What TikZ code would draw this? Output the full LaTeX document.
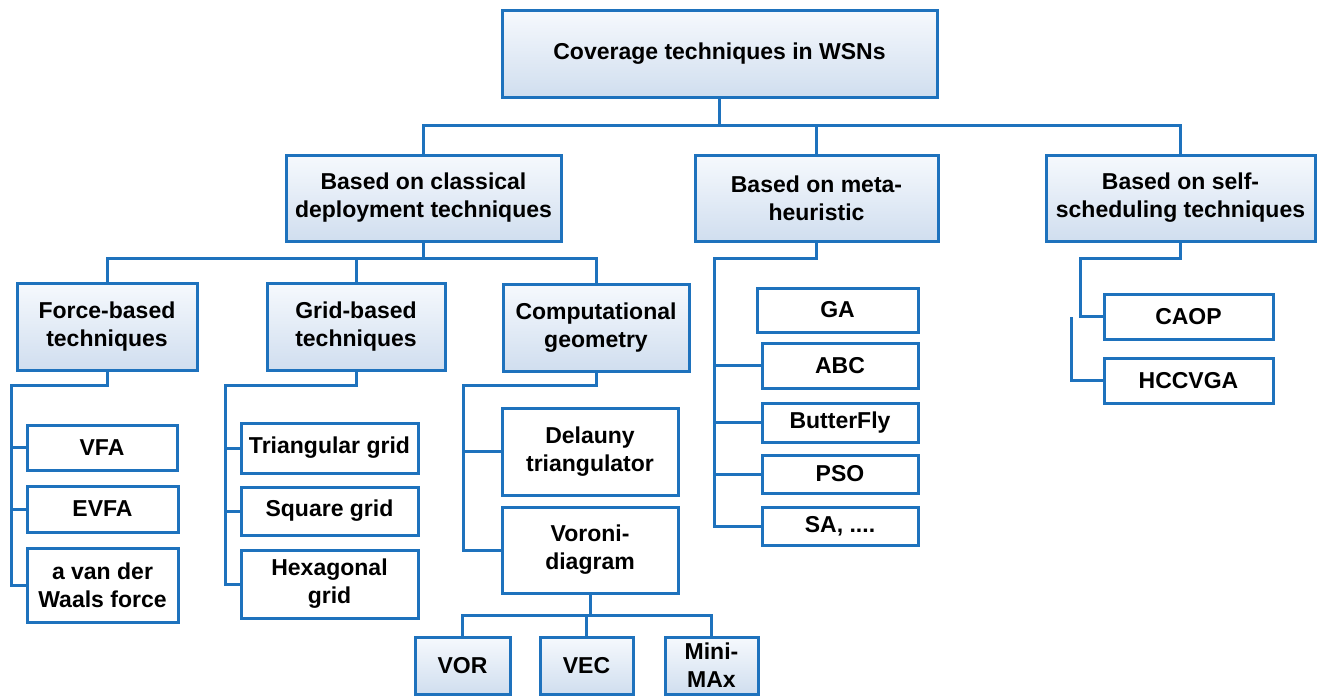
\documentclass[tikz,border=0pt]{standalone}
\usepackage{fontspec}
\setmainfont{Liberation Sans}
\usetikzlibrary{shadows}
\definecolor{edgeblue}{RGB}{30,114,189}
\definecolor{topfill}{RGB}{246,249,253}
\definecolor{botfill}{RGB}{208,222,239}
\tikzset{
  base/.style={draw=edgeblue, line width=3pt, inner sep=0pt, align=center,
    font=\fontsize{23pt}{28pt}\selectfont\bfseries,
    drop shadow={shadow xshift=1.5pt, shadow yshift=-2pt, opacity=0.3, fill=black!60}},
  gbox/.style={base, top color=topfill, bottom color=botfill},
  wbox/.style={base, fill=white},
  conn/.style={draw=edgeblue, line width=3pt}
}
\begin{document}
\begin{tikzpicture}[x=1pt, y=-1pt]
\useasboundingbox (0,0) rectangle (1318,696);
% level 0
\node[gbox, minimum width=435pt, minimum height=87pt] (root) at (719.5,53.5) {Coverage techniques in WSNs};
% level 1
\node[gbox, minimum width=275pt, minimum height=86pt] (classical) at (423.5,198) {Based on classical\\deployment techniques};
\node[gbox, minimum width=243pt, minimum height=86pt] (meta) at (816.5,198) {Based on meta-\\heuristic};
\node[gbox, minimum width=269pt, minimum height=86pt] (self) at (1180.5,198) {Based on self-\\scheduling techniques};
% level 2
\node[gbox, minimum width=180pt, minimum height=87pt] (force) at (107,326.5) {Force-based\\techniques};
\node[gbox, minimum width=178pt, minimum height=87pt] (grid) at (356,326.5) {Grid-based\\techniques};
\node[gbox, minimum width=186pt, minimum height=87pt] (comp) at (596,327.5) {Computational\\geometry};
% force children
\node[wbox, minimum width=150pt, minimum height=45pt] (vfa) at (102,447.5) {VFA};
\node[wbox, minimum width=151pt, minimum height=46pt] (evfa) at (102.5,509) {EVFA};
\node[wbox, minimum width=151pt, minimum height=74pt] (vdw) at (102.5,585) {a van der\\Waals force};
% grid children
\node[wbox, minimum width=177pt, minimum height=50pt] (tri) at (329.5,448) {Triangular grid};
\node[wbox, minimum width=177pt, minimum height=48pt] (sq) at (329.5,511) {Square grid};
\node[wbox, minimum width=177pt, minimum height=68pt] (hex) at (329.5,584) {Hexagonal\\grid};
% comp children
\node[wbox, minimum width=176pt, minimum height=87pt] (del) at (590,451.5) {Delauny\\triangulator};
\node[wbox, minimum width=176pt, minimum height=86pt] (vord) at (590,550) {Voroni-\\diagram};
% voroni children
\node[gbox, minimum width=95pt, minimum height=57pt] (vor) at (462.5,665.5) {VOR};
\node[gbox, minimum width=93pt, minimum height=57pt] (vec) at (586.5,665.5) {VEC};
\node[gbox, minimum width=93pt, minimum height=57pt] (mini) at (711.5,665.5) {Mini-\\MAx};
% meta children
\node[wbox, minimum width=161pt, minimum height=44pt] (ga) at (837.5,310) {GA};
\node[wbox, minimum width=156pt, minimum height=45pt] (abc) at (840,365.5) {ABC};
\node[wbox, minimum width=156pt, minimum height=39pt] (bf) at (840,422.5) {ButterFly};
\node[wbox, minimum width=156pt, minimum height=38pt] (pso) at (840,474) {PSO};
\node[wbox, minimum width=156pt, minimum height=38pt] (sa) at (840,526) {SA, ....};
% self children
\node[wbox, minimum width=169pt, minimum height=45pt] (caop) at (1188.5,316.5) {CAOP};
\node[wbox, minimum width=169pt, minimum height=45pt] (hcc) at (1188.5,380.5) {HCCVGA};

% bus coordinates
\coordinate (b1) at (0,125);
\coordinate (b2) at (0,258);
\coordinate (b3) at (0,615);
\coordinate (fb) at (11,385);
\coordinate (gb) at (225,385);
\coordinate (cb) at (463,385);
\coordinate (mb) at (714,258);
\coordinate (sb) at (1080,258);
\coordinate (hs) at (1071,317);

% connectors
\draw[conn] (root.south) -- (root.south |- b1);
\draw[conn] (classical.north) |- (self.north |- b1) -- (self.north);
\draw[conn] (meta.north) -- (meta.north |- b1);

\draw[conn] (classical.south) -- (classical.south |- b2);
\draw[conn] (force.north) |- (comp.north |- b2) -- (comp.north);
\draw[conn] (grid.north) -- (grid.north |- b2);

\draw[conn] (force.south) |- (fb) |- (vdw.west);
\draw[conn] (vfa.west) -- (vfa.west -| fb);
\draw[conn] (evfa.west) -- (evfa.west -| fb);

\draw[conn] (grid.south) |- (gb) |- (hex.west);
\draw[conn] (tri.west) -- (tri.west -| gb);
\draw[conn] (sq.west) -- (sq.west -| gb);

\draw[conn] (comp.south) |- (cb) |- (vord.west);
\draw[conn] (del.west) -- (del.west -| cb);

\draw[conn] (vord.south) -- (vord.south |- b3);
\draw[conn] (vor.north) |- (mini.north |- b3) -- (mini.north);
\draw[conn] (vec.north) -- (vec.north |- b3);

\draw[conn] (meta.south) |- (mb) |- (sa.west);
\draw[conn] (abc.west) -- (abc.west -| mb);
\draw[conn] (bf.west) -- (bf.west -| mb);
\draw[conn] (pso.west) -- (pso.west -| mb);

\draw[conn] (self.south) |- (sb) |- (caop.west);
\draw[conn] (hs) |- (hcc.west);
\end{tikzpicture}
\end{document}
